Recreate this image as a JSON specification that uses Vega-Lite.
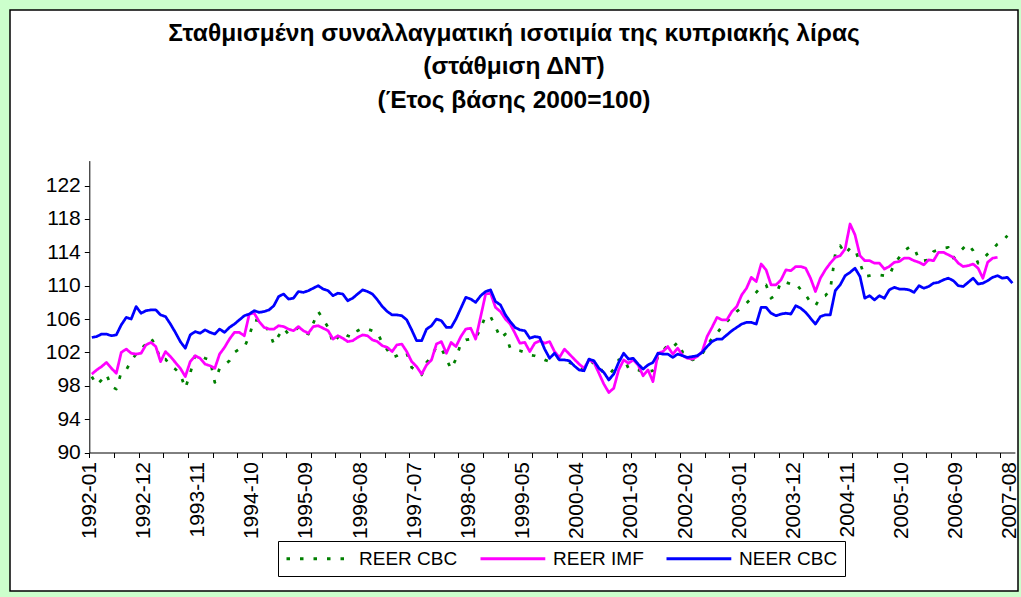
{
"$schema":"https://vega.github.io/schema/vega-lite/v6.json",
"width":1008,"height":581,"autosize":"none",
"padding":{"left":10,"top":10,"right":3,"bottom":6},
"background":"#CCFFCC",
"config":{"view":{"fill":"white","stroke":"black","strokeWidth":1.5},"font":"Liberation Sans"},
"title":{"text":["Σταθμισμένη συναλλαγματική ισοτιμία της κυπριακής λίρας","(στάθμιση ΔΝΤ)","(Έτος βάσης 2000=100)"],"fontSize":24.5,"fontWeight":"bold","font":"Liberation Sans","color":"black","anchor":"middle","frame":"group","offset":-103,"lineHeight":33.5},
"data":{"values":[
{"date":"1992-01","REER CBC":99.1,"REER IMF":99.4,"NEER CBC":103.8},
{"date":"1992-02","REER CBC":98.1,"REER IMF":99.9,"NEER CBC":103.9},
{"date":"1992-03","REER CBC":98.7,"REER IMF":100.3,"NEER CBC":104.2},
{"date":"1992-04","REER CBC":99.4,"REER IMF":100.8,"NEER CBC":104.2},
{"date":"1992-05","REER CBC":97.9,"REER IMF":100.1,"NEER CBC":104.0},
{"date":"1992-06","REER CBC":97.6,"REER IMF":99.5,"NEER CBC":104.1},
{"date":"1992-07","REER CBC":99.6,"REER IMF":102.0,"NEER CBC":105.3},
{"date":"1992-08","REER CBC":99.9,"REER IMF":102.4,"NEER CBC":106.2},
{"date":"1992-09","REER CBC":101.0,"REER IMF":101.9,"NEER CBC":106.0},
{"date":"1992-10","REER CBC":101.8,"REER IMF":101.8,"NEER CBC":107.5},
{"date":"1992-11","REER CBC":102.4,"REER IMF":101.9,"NEER CBC":106.7},
{"date":"1992-12","REER CBC":103.0,"REER IMF":102.9,"NEER CBC":107.0},
{"date":"1993-01","REER CBC":103.7,"REER IMF":103.2,"NEER CBC":107.1},
{"date":"1993-02","REER CBC":102.8,"REER IMF":102.7,"NEER CBC":107.1},
{"date":"1993-03","REER CBC":101.1,"REER IMF":100.9,"NEER CBC":106.5},
{"date":"1993-04","REER CBC":101.2,"REER IMF":102.1,"NEER CBC":106.3},
{"date":"1993-05","REER CBC":100.4,"REER IMF":101.5,"NEER CBC":105.4},
{"date":"1993-06","REER CBC":100.0,"REER IMF":100.8,"NEER CBC":104.4},
{"date":"1993-07","REER CBC":99.4,"REER IMF":100.1,"NEER CBC":103.3},
{"date":"1993-08","REER CBC":97.7,"REER IMF":99.1,"NEER CBC":102.5},
{"date":"1993-09","REER CBC":99.5,"REER IMF":100.9,"NEER CBC":104.1},
{"date":"1993-10","REER CBC":101.7,"REER IMF":101.6,"NEER CBC":104.5},
{"date":"1993-11","REER CBC":101.6,"REER IMF":101.3,"NEER CBC":104.3},
{"date":"1993-12","REER CBC":101.3,"REER IMF":100.6,"NEER CBC":104.7},
{"date":"1994-01","REER CBC":101.1,"REER IMF":100.4,"NEER CBC":104.4},
{"date":"1994-02","REER CBC":98.4,"REER IMF":100.1,"NEER CBC":104.2},
{"date":"1994-03","REER CBC":100.1,"REER IMF":101.8,"NEER CBC":104.8},
{"date":"1994-04","REER CBC":100.5,"REER IMF":102.6,"NEER CBC":104.4},
{"date":"1994-05","REER CBC":101.0,"REER IMF":103.6,"NEER CBC":105.0},
{"date":"1994-06","REER CBC":102.0,"REER IMF":104.4,"NEER CBC":105.4},
{"date":"1994-07","REER CBC":102.4,"REER IMF":104.4,"NEER CBC":105.9},
{"date":"1994-08","REER CBC":102.6,"REER IMF":104.0,"NEER CBC":106.4},
{"date":"1994-09","REER CBC":104.0,"REER IMF":106.6,"NEER CBC":106.6},
{"date":"1994-10","REER CBC":105.9,"REER IMF":106.7,"NEER CBC":107.0},
{"date":"1994-11","REER CBC":105.8,"REER IMF":105.7,"NEER CBC":106.8},
{"date":"1994-12","REER CBC":105.3,"REER IMF":105.0,"NEER CBC":106.9},
{"date":"1995-01","REER CBC":104.5,"REER IMF":104.8,"NEER CBC":107.1},
{"date":"1995-02","REER CBC":103.0,"REER IMF":104.8,"NEER CBC":107.6},
{"date":"1995-03","REER CBC":104.0,"REER IMF":105.2,"NEER CBC":108.7},
{"date":"1995-04","REER CBC":104.9,"REER IMF":105.1,"NEER CBC":109.0},
{"date":"1995-05","REER CBC":104.2,"REER IMF":104.8,"NEER CBC":108.4},
{"date":"1995-06","REER CBC":104.5,"REER IMF":104.6,"NEER CBC":108.5},
{"date":"1995-07","REER CBC":105.0,"REER IMF":105.1,"NEER CBC":109.3},
{"date":"1995-08","REER CBC":104.4,"REER IMF":104.6,"NEER CBC":109.2},
{"date":"1995-09","REER CBC":104.2,"REER IMF":104.3,"NEER CBC":109.4},
{"date":"1995-10","REER CBC":105.5,"REER IMF":105.1,"NEER CBC":109.7},
{"date":"1995-11","REER CBC":106.9,"REER IMF":105.2,"NEER CBC":110.0},
{"date":"1995-12","REER CBC":106.0,"REER IMF":104.9,"NEER CBC":109.6},
{"date":"1996-01","REER CBC":105.0,"REER IMF":104.6,"NEER CBC":109.4},
{"date":"1996-02","REER CBC":103.1,"REER IMF":103.6,"NEER CBC":108.8},
{"date":"1996-03","REER CBC":103.8,"REER IMF":104.0,"NEER CBC":109.1},
{"date":"1996-04","REER CBC":104.4,"REER IMF":103.7,"NEER CBC":109.0},
{"date":"1996-05","REER CBC":104.0,"REER IMF":103.3,"NEER CBC":108.2},
{"date":"1996-06","REER CBC":103.8,"REER IMF":103.4,"NEER CBC":108.5},
{"date":"1996-07","REER CBC":104.6,"REER IMF":103.8,"NEER CBC":109.0},
{"date":"1996-08","REER CBC":104.9,"REER IMF":104.1,"NEER CBC":109.5},
{"date":"1996-09","REER CBC":104.8,"REER IMF":104.0,"NEER CBC":109.3},
{"date":"1996-10","REER CBC":104.6,"REER IMF":103.5,"NEER CBC":109.0},
{"date":"1996-11","REER CBC":104.4,"REER IMF":103.3,"NEER CBC":108.3},
{"date":"1996-12","REER CBC":103.1,"REER IMF":102.8,"NEER CBC":107.5},
{"date":"1997-01","REER CBC":102.3,"REER IMF":102.6,"NEER CBC":106.9},
{"date":"1997-02","REER CBC":101.4,"REER IMF":102.1,"NEER CBC":106.5},
{"date":"1997-03","REER CBC":101.6,"REER IMF":102.9,"NEER CBC":106.5},
{"date":"1997-04","REER CBC":102.0,"REER IMF":103.0,"NEER CBC":106.4},
{"date":"1997-05","REER CBC":101.9,"REER IMF":102.1,"NEER CBC":105.9},
{"date":"1997-06","REER CBC":100.2,"REER IMF":100.9,"NEER CBC":104.7},
{"date":"1997-07","REER CBC":99.8,"REER IMF":100.3,"NEER CBC":103.4},
{"date":"1997-08","REER CBC":99.3,"REER IMF":99.4,"NEER CBC":103.4},
{"date":"1997-09","REER CBC":100.8,"REER IMF":100.5,"NEER CBC":104.8},
{"date":"1997-10","REER CBC":101.5,"REER IMF":101.1,"NEER CBC":105.2},
{"date":"1997-11","REER CBC":102.7,"REER IMF":103.0,"NEER CBC":106.0},
{"date":"1997-12","REER CBC":102.5,"REER IMF":103.3,"NEER CBC":105.8},
{"date":"1998-01","REER CBC":101.2,"REER IMF":101.9,"NEER CBC":105.0},
{"date":"1998-02","REER CBC":100.0,"REER IMF":103.2,"NEER CBC":105.0},
{"date":"1998-03","REER CBC":101.2,"REER IMF":102.7,"NEER CBC":106.0},
{"date":"1998-04","REER CBC":103.1,"REER IMF":103.9,"NEER CBC":107.3},
{"date":"1998-05","REER CBC":103.5,"REER IMF":104.8,"NEER CBC":108.6},
{"date":"1998-06","REER CBC":103.6,"REER IMF":104.9,"NEER CBC":108.4},
{"date":"1998-07","REER CBC":103.7,"REER IMF":103.6,"NEER CBC":108.0},
{"date":"1998-08","REER CBC":104.9,"REER IMF":106.3,"NEER CBC":108.8},
{"date":"1998-09","REER CBC":106.4,"REER IMF":109.0,"NEER CBC":109.3},
{"date":"1998-10","REER CBC":106.3,"REER IMF":109.1,"NEER CBC":109.5},
{"date":"1998-11","REER CBC":105.1,"REER IMF":107.4,"NEER CBC":108.1},
{"date":"1998-12","REER CBC":103.7,"REER IMF":106.9,"NEER CBC":107.7},
{"date":"1999-01","REER CBC":104.2,"REER IMF":106.0,"NEER CBC":106.5},
{"date":"1999-02","REER CBC":102.5,"REER IMF":105.4,"NEER CBC":105.7},
{"date":"1999-03","REER CBC":102.3,"REER IMF":104.3,"NEER CBC":105.0},
{"date":"1999-04","REER CBC":102.2,"REER IMF":103.1,"NEER CBC":104.7},
{"date":"1999-05","REER CBC":102.0,"REER IMF":103.2,"NEER CBC":104.6},
{"date":"1999-06","REER CBC":101.7,"REER IMF":102.1,"NEER CBC":103.7},
{"date":"1999-07","REER CBC":101.6,"REER IMF":103.1,"NEER CBC":103.9},
{"date":"1999-08","REER CBC":101.4,"REER IMF":103.4,"NEER CBC":103.8},
{"date":"1999-09","REER CBC":101.1,"REER IMF":103.1,"NEER CBC":102.4},
{"date":"1999-10","REER CBC":100.9,"REER IMF":103.3,"NEER CBC":101.3},
{"date":"1999-11","REER CBC":101.0,"REER IMF":102.1,"NEER CBC":101.9},
{"date":"1999-12","REER CBC":101.4,"REER IMF":101.4,"NEER CBC":101.1},
{"date":"2000-01","REER CBC":101.0,"REER IMF":102.4,"NEER CBC":101.1},
{"date":"2000-02","REER CBC":100.8,"REER IMF":101.8,"NEER CBC":101.0},
{"date":"2000-03","REER CBC":100.5,"REER IMF":101.2,"NEER CBC":100.4},
{"date":"2000-04","REER CBC":100.2,"REER IMF":100.6,"NEER CBC":99.9},
{"date":"2000-05","REER CBC":99.9,"REER IMF":100.1,"NEER CBC":99.8},
{"date":"2000-06","REER CBC":100.5,"REER IMF":101.1,"NEER CBC":101.2},
{"date":"2000-07","REER CBC":100.9,"REER IMF":100.8,"NEER CBC":101.0},
{"date":"2000-08","REER CBC":100.3,"REER IMF":99.5,"NEER CBC":100.1},
{"date":"2000-09","REER CBC":99.5,"REER IMF":98.2,"NEER CBC":99.6},
{"date":"2000-10","REER CBC":99.3,"REER IMF":97.2,"NEER CBC":98.7},
{"date":"2000-11","REER CBC":100.0,"REER IMF":97.7,"NEER CBC":99.4},
{"date":"2000-12","REER CBC":101.1,"REER IMF":99.9,"NEER CBC":100.8},
{"date":"2001-01","REER CBC":101.3,"REER IMF":101.1,"NEER CBC":101.9},
{"date":"2001-02","REER CBC":100.1,"REER IMF":100.7,"NEER CBC":101.2},
{"date":"2001-03","REER CBC":100.0,"REER IMF":101.1,"NEER CBC":101.3},
{"date":"2001-04","REER CBC":99.9,"REER IMF":100.5,"NEER CBC":100.6},
{"date":"2001-05","REER CBC":99.6,"REER IMF":99.2,"NEER CBC":100.0},
{"date":"2001-06","REER CBC":99.7,"REER IMF":99.9,"NEER CBC":100.5},
{"date":"2001-07","REER CBC":99.8,"REER IMF":98.5,"NEER CBC":100.8},
{"date":"2001-08","REER CBC":101.5,"REER IMF":101.9,"NEER CBC":101.9},
{"date":"2001-09","REER CBC":102.2,"REER IMF":102.1,"NEER CBC":101.8},
{"date":"2001-10","REER CBC":102.9,"REER IMF":102.7,"NEER CBC":101.8},
{"date":"2001-11","REER CBC":102.6,"REER IMF":101.8,"NEER CBC":101.4},
{"date":"2001-12","REER CBC":103.2,"REER IMF":102.5,"NEER CBC":101.8},
{"date":"2002-01","REER CBC":102.0,"REER IMF":101.6,"NEER CBC":101.6},
{"date":"2002-02","REER CBC":101.7,"REER IMF":101.3,"NEER CBC":101.4},
{"date":"2002-03","REER CBC":101.1,"REER IMF":101.2,"NEER CBC":101.5},
{"date":"2002-04","REER CBC":101.4,"REER IMF":101.5,"NEER CBC":101.6},
{"date":"2002-05","REER CBC":101.8,"REER IMF":102.1,"NEER CBC":102.0},
{"date":"2002-06","REER CBC":102.8,"REER IMF":103.9,"NEER CBC":102.7},
{"date":"2002-07","REER CBC":103.7,"REER IMF":105.0,"NEER CBC":103.3},
{"date":"2002-08","REER CBC":104.3,"REER IMF":106.2,"NEER CBC":103.6},
{"date":"2002-09","REER CBC":105.1,"REER IMF":105.9,"NEER CBC":103.6},
{"date":"2002-10","REER CBC":105.7,"REER IMF":105.9,"NEER CBC":104.1},
{"date":"2002-11","REER CBC":106.3,"REER IMF":106.9,"NEER CBC":104.6},
{"date":"2002-12","REER CBC":106.9,"REER IMF":107.5,"NEER CBC":105.0},
{"date":"2003-01","REER CBC":107.4,"REER IMF":108.9,"NEER CBC":105.4},
{"date":"2003-02","REER CBC":107.9,"REER IMF":109.7,"NEER CBC":105.6},
{"date":"2003-03","REER CBC":108.5,"REER IMF":111.0,"NEER CBC":105.6},
{"date":"2003-04","REER CBC":109.2,"REER IMF":110.5,"NEER CBC":105.4},
{"date":"2003-05","REER CBC":109.9,"REER IMF":112.6,"NEER CBC":107.4},
{"date":"2003-06","REER CBC":110.1,"REER IMF":111.9,"NEER CBC":107.4},
{"date":"2003-07","REER CBC":108.5,"REER IMF":110.1,"NEER CBC":106.7},
{"date":"2003-08","REER CBC":108.9,"REER IMF":110.1,"NEER CBC":106.4},
{"date":"2003-09","REER CBC":110.5,"REER IMF":110.7,"NEER CBC":106.6},
{"date":"2003-10","REER CBC":110.4,"REER IMF":111.9,"NEER CBC":106.7},
{"date":"2003-11","REER CBC":110.2,"REER IMF":111.8,"NEER CBC":106.6},
{"date":"2003-12","REER CBC":110.3,"REER IMF":112.3,"NEER CBC":107.6},
{"date":"2004-01","REER CBC":109.5,"REER IMF":112.3,"NEER CBC":107.3},
{"date":"2004-02","REER CBC":108.9,"REER IMF":112.1,"NEER CBC":106.8},
{"date":"2004-03","REER CBC":108.0,"REER IMF":110.9,"NEER CBC":106.1},
{"date":"2004-04","REER CBC":107.6,"REER IMF":109.3,"NEER CBC":105.4},
{"date":"2004-05","REER CBC":108.6,"REER IMF":110.9,"NEER CBC":106.3},
{"date":"2004-06","REER CBC":108.8,"REER IMF":111.9,"NEER CBC":106.5},
{"date":"2004-07","REER CBC":109.5,"REER IMF":112.7,"NEER CBC":106.5},
{"date":"2004-08","REER CBC":113.8,"REER IMF":113.4,"NEER CBC":109.4},
{"date":"2004-09","REER CBC":114.8,"REER IMF":113.6,"NEER CBC":110.1},
{"date":"2004-10","REER CBC":113.8,"REER IMF":114.4,"NEER CBC":111.2},
{"date":"2004-11","REER CBC":114.5,"REER IMF":117.4,"NEER CBC":111.6},
{"date":"2004-12","REER CBC":114.4,"REER IMF":116.1,"NEER CBC":112.1},
{"date":"2005-01","REER CBC":112.7,"REER IMF":113.6,"NEER CBC":111.1},
{"date":"2005-02","REER CBC":111.1,"REER IMF":113.0,"NEER CBC":108.5},
{"date":"2005-03","REER CBC":111.2,"REER IMF":113.0,"NEER CBC":108.8},
{"date":"2005-04","REER CBC":111.3,"REER IMF":112.7,"NEER CBC":108.3},
{"date":"2005-05","REER CBC":111.3,"REER IMF":112.7,"NEER CBC":108.8},
{"date":"2005-06","REER CBC":111.2,"REER IMF":112.0,"NEER CBC":108.5},
{"date":"2005-07","REER CBC":111.2,"REER IMF":112.3,"NEER CBC":109.5},
{"date":"2005-08","REER CBC":112.6,"REER IMF":112.8,"NEER CBC":109.8},
{"date":"2005-09","REER CBC":113.4,"REER IMF":112.9,"NEER CBC":109.6},
{"date":"2005-10","REER CBC":114.2,"REER IMF":113.3,"NEER CBC":109.6},
{"date":"2005-11","REER CBC":114.6,"REER IMF":113.3,"NEER CBC":109.5},
{"date":"2005-12","REER CBC":114.6,"REER IMF":113.0,"NEER CBC":109.2},
{"date":"2006-01","REER CBC":113.1,"REER IMF":112.8,"NEER CBC":110.0},
{"date":"2006-02","REER CBC":113.0,"REER IMF":112.5,"NEER CBC":109.7},
{"date":"2006-03","REER CBC":113.1,"REER IMF":113.1,"NEER CBC":109.9},
{"date":"2006-04","REER CBC":114.1,"REER IMF":113.0,"NEER CBC":110.3},
{"date":"2006-05","REER CBC":114.3,"REER IMF":114.0,"NEER CBC":110.4},
{"date":"2006-06","REER CBC":114.5,"REER IMF":114.0,"NEER CBC":110.7},
{"date":"2006-07","REER CBC":114.6,"REER IMF":113.7,"NEER CBC":110.9},
{"date":"2006-08","REER CBC":113.3,"REER IMF":113.4,"NEER CBC":110.6},
{"date":"2006-09","REER CBC":113.9,"REER IMF":112.7,"NEER CBC":110.0},
{"date":"2006-10","REER CBC":114.5,"REER IMF":112.3,"NEER CBC":109.9},
{"date":"2006-11","REER CBC":115.0,"REER IMF":112.4,"NEER CBC":110.4},
{"date":"2006-12","REER CBC":114.2,"REER IMF":112.6,"NEER CBC":110.9},
{"date":"2007-01","REER CBC":112.7,"REER IMF":112.1,"NEER CBC":110.2},
{"date":"2007-02","REER CBC":113.2,"REER IMF":110.9,"NEER CBC":110.3},
{"date":"2007-03","REER CBC":113.8,"REER IMF":112.8,"NEER CBC":110.6},
{"date":"2007-04","REER CBC":114.4,"REER IMF":113.3,"NEER CBC":111.0},
{"date":"2007-05","REER CBC":115.0,"REER IMF":113.4,"NEER CBC":111.2},
{"date":"2007-06","REER CBC":115.3,"NEER CBC":110.9},
{"date":"2007-07","REER CBC":116.0,"NEER CBC":111.0},
{"date":"2007-08","NEER CBC":110.3}
]},
"transform":[{"fold":["REER CBC","REER IMF","NEER CBC"],"as":["series","value"]},{"filter":"isValid(datum.value)"}],
"mark":{"type":"line","strokeWidth":2.75,"strokeCap":"butt","strokeJoin":"round"},
"encoding":{
"x":{"field":"date","type":"temporal","timeUnit":"utcyearmonth","bandPosition":0.5,"title":null,
 "scale":{"type":"utc","domain":[{"year":1992,"month":1,"date":1,"utc":true},{"year":2007,"month":9,"date":1,"utc":true}],"range":[79.3,1004.9],"nice":false},
 "axis":{"values":[
 {"year":1992,"month":1,"date":1,"utc":true},{"year":1992,"month":6,"date":1,"utc":true},{"year":1992,"month":11,"date":1,"utc":true},
 {"year":1993,"month":4,"date":1,"utc":true},{"year":1993,"month":9,"date":1,"utc":true},{"year":1994,"month":2,"date":1,"utc":true},
 {"year":1994,"month":7,"date":1,"utc":true},{"year":1994,"month":12,"date":1,"utc":true},{"year":1995,"month":5,"date":1,"utc":true},
 {"year":1995,"month":10,"date":1,"utc":true},{"year":1996,"month":3,"date":1,"utc":true},{"year":1996,"month":8,"date":1,"utc":true},
 {"year":1997,"month":1,"date":1,"utc":true},{"year":1997,"month":6,"date":1,"utc":true},{"year":1997,"month":11,"date":1,"utc":true},
 {"year":1998,"month":4,"date":1,"utc":true},{"year":1998,"month":9,"date":1,"utc":true},{"year":1999,"month":2,"date":1,"utc":true},
 {"year":1999,"month":7,"date":1,"utc":true},{"year":1999,"month":12,"date":1,"utc":true},{"year":2000,"month":5,"date":1,"utc":true},
 {"year":2000,"month":10,"date":1,"utc":true},{"year":2001,"month":3,"date":1,"utc":true},{"year":2001,"month":8,"date":1,"utc":true},
 {"year":2002,"month":1,"date":1,"utc":true},{"year":2002,"month":6,"date":1,"utc":true},{"year":2002,"month":11,"date":1,"utc":true},
 {"year":2003,"month":4,"date":1,"utc":true},{"year":2003,"month":9,"date":1,"utc":true},{"year":2004,"month":2,"date":1,"utc":true},
 {"year":2004,"month":7,"date":1,"utc":true},{"year":2004,"month":12,"date":1,"utc":true},{"year":2005,"month":5,"date":1,"utc":true},
 {"year":2005,"month":10,"date":1,"utc":true},{"year":2006,"month":3,"date":1,"utc":true},{"year":2006,"month":8,"date":1,"utc":true},
 {"year":2007,"month":1,"date":1,"utc":true},{"year":2007,"month":6,"date":1,"utc":true},
 {"year":1992,"month":12,"date":1,"utc":true},{"year":1993,"month":11,"date":1,"utc":true},{"year":1994,"month":10,"date":1,"utc":true},
 {"year":1995,"month":9,"date":1,"utc":true},{"year":1997,"month":7,"date":1,"utc":true},{"year":1998,"month":6,"date":1,"utc":true},
 {"year":1999,"month":5,"date":1,"utc":true},{"year":2000,"month":4,"date":1,"utc":true},{"year":2002,"month":2,"date":1,"utc":true},
 {"year":2003,"month":1,"date":1,"utc":true},{"year":2003,"month":12,"date":1,"utc":true},{"year":2004,"month":11,"date":1,"utc":true},
 {"year":2006,"month":9,"date":1,"utc":true},{"year":2007,"month":8,"date":1,"utc":true}],
 "labelExpr":"((utcyear(datum.value)-1992)*12 + utcmonth(datum.value)) % 11 == 0 ? utcFormat(datum.value, '%Y-%m') : ''",
 "tickOpacity":{"condition":{"test":"((utcyear(datum.value)-1992)*12 + utcmonth(datum.value)) % 5 == 0","value":1},"value":0},
 "labelAngle":270,"labelFontSize":21,"labelColor":"black","labelPadding":4,"labelFont":"Liberation Sans",
 "tickSize":5,"tickColor":"black","domainColor":"black","grid":false,"offset":-138.5,
 "labelOverlap":false,"labelFlush":false,"labelBound":false,"title":null}},
"y":{"field":"value","type":"quantitative","title":null,
 "scale":{"domain":[90,125],"range":[442.5,150.6],"nice":false,"zero":false},
 "axis":{"values":[90,94,98,102,106,110,114,118,122],"labelFontSize":21,"labelColor":"black","labelFont":"Liberation Sans","labelPadding":4,
 "tickSize":5,"tickColor":"black","domainColor":"black","grid":false,"offset":-79.3,"title":null}},
"color":{"field":"series","type":"nominal","scale":{"domain":["REER CBC","REER IMF","NEER CBC"],"range":["#008000","#FF00FF","#0000FF"]},
 "legend":{"title":null,"orient":"none","legendX":268,"legendY":531,"direction":"horizontal","fillColor":"white","strokeColor":"black","padding":7,
 "labelFontSize":19,"labelColor":"black","labelFont":"Liberation Sans","symbolType":"M-1,0H6.2","symbolSize":324,"symbolStrokeWidth":3,"labelOffset":53,"columnPadding":16,"labelLimit":0}},
"strokeDash":{"field":"series","type":"nominal","scale":{"domain":["REER CBC","REER IMF","NEER CBC"],"range":[[3.5,10],[1,0],[1,0]]},
 "legend":{"title":null,"orient":"none","legendX":268,"legendY":531,"direction":"horizontal","fillColor":"white","strokeColor":"black","padding":7,
 "labelFontSize":19,"labelColor":"black","labelFont":"Liberation Sans","symbolType":"M-1,0H6.2","symbolSize":324,"symbolStrokeWidth":3,"labelOffset":53,"columnPadding":16,"labelLimit":0}}
}
}
